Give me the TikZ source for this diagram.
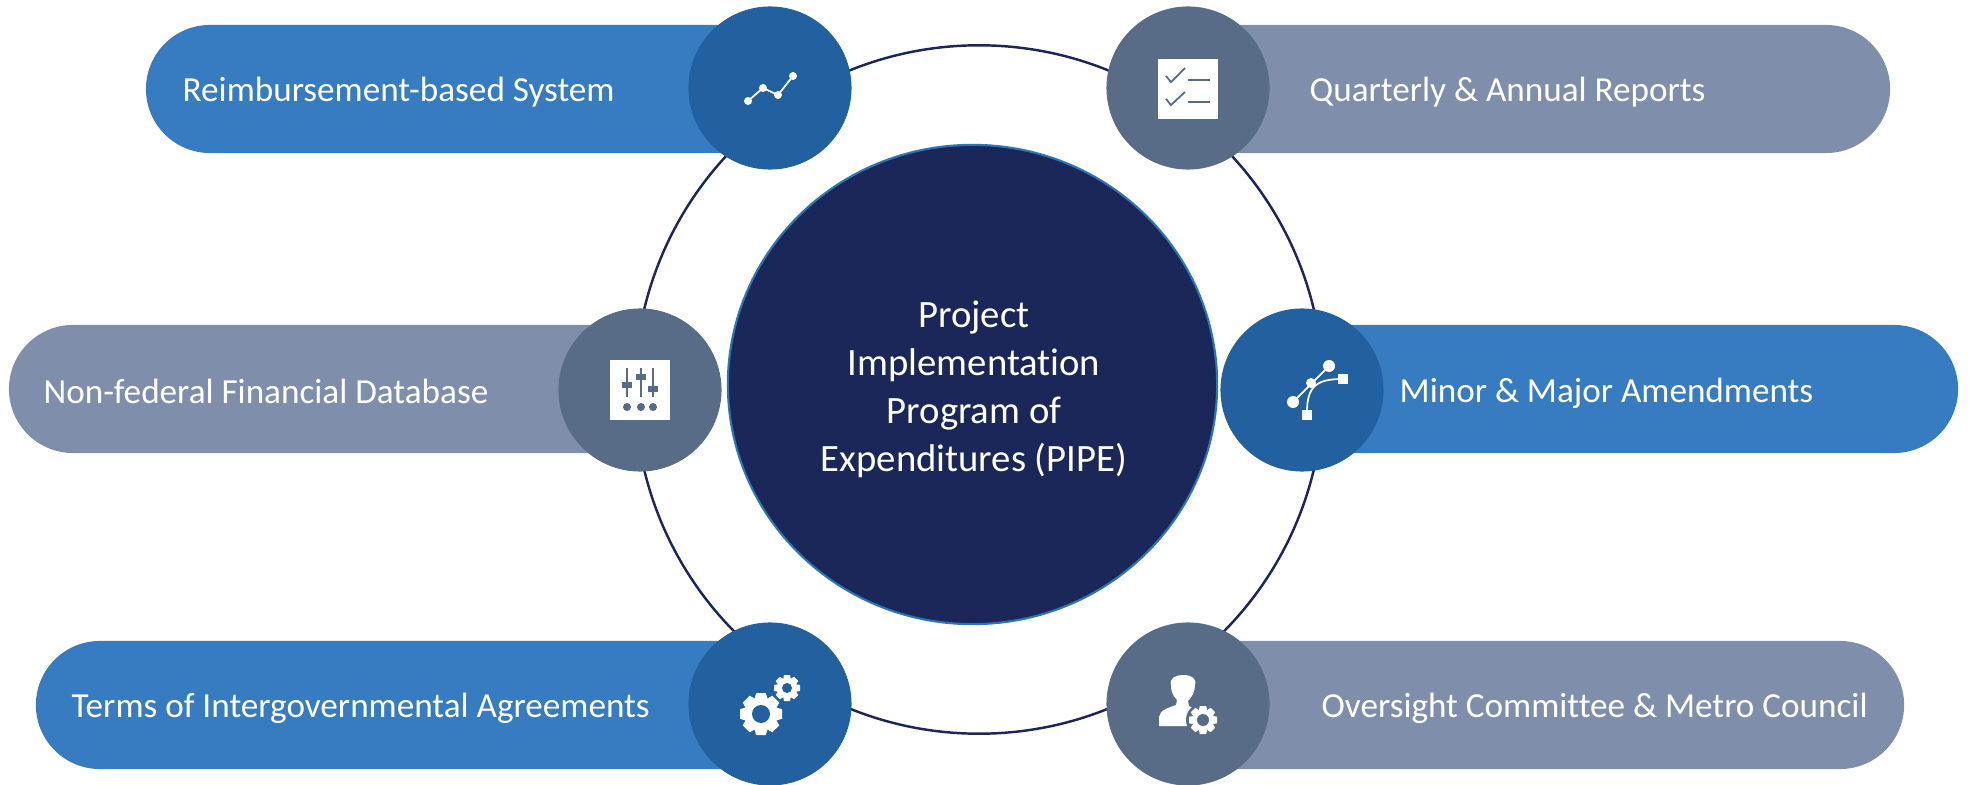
\documentclass[tikz,border=0pt]{standalone}
\usepackage{fontspec}
\setmainfont[Ligatures=NoCommon]{Carlito}
\usetikzlibrary{shapes.misc,shapes.geometric}

\definecolor{navy}{HTML}{1C2759}
\definecolor{rimblue}{HTML}{2E75B6}
\definecolor{barblue}{HTML}{377BC1}
\definecolor{badgeblue}{HTML}{22609F}
\definecolor{bargrey}{HTML}{7F8FAB}
\definecolor{badgegrey}{HTML}{586B87}

\tikzset{
    leftbar/.style={rounded rectangle, rounded rectangle east arc=none, minimum height=1.28cm, inner sep=0pt, anchor=east},
    rightbar/.style={rounded rectangle, rounded rectangle west arc=none, minimum height=1.28cm, inner sep=0pt, anchor=west},
    badge/.style={circle, minimum size=1.63cm, inner sep=0pt},
    bartext/.style={anchor=west, inner sep=0pt, text=white, font=\fontsize{10}{12}\selectfont},
    sheet/.style={fill=white, minimum size=0.6cm, inner sep=0pt},
}

% cx, cy, outer radius, body radius, hole radius, hole colour
\newcommand{\gearicon}[6]{
    \foreach \a in {0,45,...,315} {
        \fill[white, shift={(#1,#2)}, rotate=\a] (-0.30*#3,-#4+1) -- (-0.23*#3,-#3) -- (0.23*#3,-#3) -- (0.30*#3,-#4+1) -- cycle;
    }
    \fill[white] (#1,#2) circle[radius=#4*0.01cm];
    \fill[#6] (#1,#2) circle[radius=#5*0.01cm];
}

\begin{document}
\begin{tikzpicture}[x=0.01cm,y=-0.01cm]
    \useasboundingbox (0,0) rectangle (1969,785);

    \node[circle, draw=navy, line width=0.7pt, minimum size=6.88cm, inner sep=0pt] (ring) at (979,389.5) {};
    \node[ellipse, fill=navy, draw=rimblue, line width=0.6pt, minimum width=4.89cm, minimum height=4.79cm, inner sep=0pt] (pipe) at (972.5,384.5) {};
    \node[align=center, inner sep=0pt, text=white, font=\fontsize{11}{13.66}\selectfont] (pipetext) at (974,389) {Project\\Implementation\\Program of\\Expenditures (PIPE)};

    % bars
    \node[leftbar, fill=barblue, minimum width=6.23cm] (reimbbar) at (770,89) {};
    \node[leftbar, fill=bargrey, minimum width=6.30cm] (nonfedbar) at (640,389) {};
    \node[leftbar, fill=barblue, minimum width=7.33cm] (termsbar) at (770,705) {};
    \node[rightbar, fill=bargrey, minimum width=7.01cm] (reportsbar) at (1188,89) {};
    \node[rightbar, fill=barblue, minimum width=6.55cm] (amendbar) at (1302,389) {};
    \node[rightbar, fill=bargrey, minimum width=7.15cm] (councilbar) at (1188,705) {};

    % badges
    \node[badge, fill=badgeblue] (reimbbadge) at (770,88) {};
    \node[badge, fill=badgegrey] (nonfedbadge) at (640,390) {};
    \node[badge, fill=badgeblue] (termsbadge) at (770,704) {};
    \node[badge, fill=badgegrey] (reportsbadge) at (1188,88) {};
    \node[badge, fill=badgeblue] (amendbadge) at (1302,390) {};
    \node[badge, fill=badgegrey] (councilbadge) at (1188,704) {};

    % labels
    \node[bartext] (reimbtext) at (182,92) {Reimbursement-based System};
    \node[bartext] (nonfedtext) at (43,391) {Non-federal Financial Database};
    \node[bartext] (termstext) at (71,708) {Terms of Intergovernmental Agreements};
    \node[bartext] (reportstext) at (1309,92) {Quarterly \& Annual Reports};
    \node[bartext] (amendtext) at (1399,393) {Minor \& Major Amendments};
    \node[bartext] (counciltext) at (1321,708) {Oversight Committee \& Metro Council};

    % chart icon
    \draw[white, line width=0.5pt] (748,101) -- (763,88) -- (778,95) -- (793,76);
    \foreach \x/\y in {748/101, 763/88, 778/95, 793/76}
        \fill[white] (\x,\y) circle[radius=0.04cm];

    % checklist icon
    \node[sheet] (checksheet) at (1188,89) {};
    \draw[badgegrey, line width=0.5pt] (1166,76) -- (1171,82) -- (1185,68);
    \draw[badgegrey, line width=0.5pt] (1166,99) -- (1171,105) -- (1185,92);
    \draw[badgegrey, line width=0.5pt] (1188,80) -- (1210,80);
    \draw[badgegrey, line width=0.5pt] (1188,102) -- (1210,102);

    % slider icon
    \node[sheet] (slidersheet) at (640,390) {};
    \foreach \x/\y in {627/385, 641/377, 653/389} {
        \draw[badgegrey, line width=0.5pt] (\x,368) -- (\x,397);
        \fill[badgegrey] (\x-5,\y-3) rectangle (\x+5,\y+3);
        \fill[badgegrey] (\x,407) circle[radius=0.04cm];
    }

    % curve icon
    \draw[white, line width=0.5pt] (1293,402) -- (1329,366);
    \draw[white, line width=0.5pt] (1307,412) .. controls (1307,385) and (1318,379) .. (1343,379);
    \fill[white] (1329,366) circle[radius=0.06cm];
    \fill[white] (1293,402) circle[radius=0.06cm];
    \fill[white] (1311,383) circle[radius=0.05cm];
    \fill[white] (1338,374) rectangle (1348,384);
    \fill[white] (1302,410) rectangle (1312,420);

    % gear icon
    \gearicon{761}{714}{21}{17}{9}{badgeblue}
    \gearicon{787}{688}{13}{9.5}{5}{badgeblue}

    % person icon
    \fill[white] (1159,726) -- (1159,717) .. controls (1160,710) and (1168,708) .. (1176,705)
        -- (1177,700) .. controls (1172,695) and (1171,690) .. (1171,685)
        .. controls (1169,678) and (1176,675) .. (1183,675)
        .. controls (1191,675) and (1197,678) .. (1195,685)
        .. controls (1195,692) and (1192,697) .. (1188,701)
        -- (1189,706) -- (1200,712) -- (1200,726) -- cycle;
    \fill[badgegrey] (1203,720) circle[radius=0.17cm];
    \gearicon{1203}{720}{14}{10.5}{6}{badgegrey}
\end{tikzpicture}
\end{document}
